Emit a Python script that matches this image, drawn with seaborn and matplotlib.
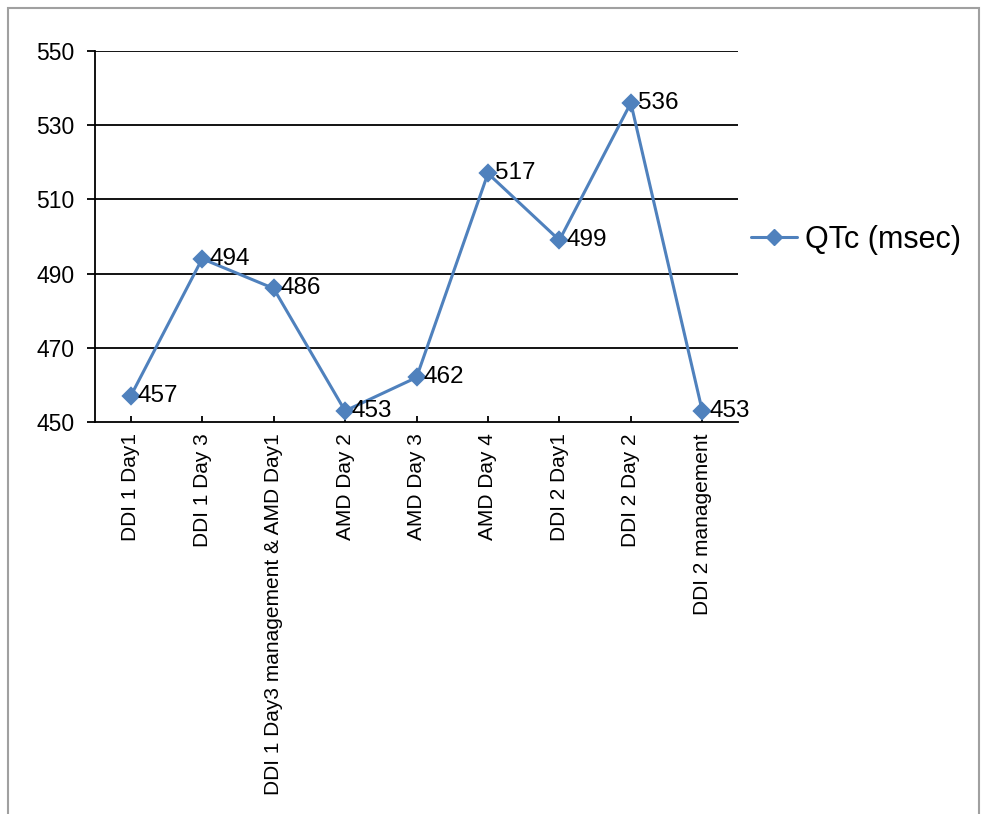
import pandas as pd
import seaborn as sns
import matplotlib.pyplot as plt
from matplotlib.patches import Rectangle
from matplotlib.lines import Line2D

stages = ['DDI 1 Day1', 'DDI 1 Day 3', 'DDI 1 Day3 management & AMD Day1',
          'AMD Day 2', 'AMD Day 3', 'AMD Day 4', 'DDI 2 Day1', 'DDI 2 Day 2',
          'DDI 2 management']
qtc = [457, 494, 486, 453, 462, 517, 499, 536, 453]
y_ticks = [450, 470, 490, 510, 530, 550]

blue = '#4F81BD'

sns.set_style('white')
plt.rcParams['font.family'] = ['Liberation Sans', 'DejaVu Sans']
plt.rcParams['text.color'] = 'black'
plt.rcParams['xtick.color'] = 'black'
plt.rcParams['ytick.color'] = 'black'

df = pd.DataFrame({'stage': stages, 'qtc': qtc})

fig = plt.figure(figsize=(9.81, 8.14), dpi=100)
ax = fig.add_axes([95 / 981, 1 - 422 / 814, (738 - 95) / 981, (422 - 51) / 814])

sns.pointplot(data=df, x='stage', y='qtc', order=stages, color=blue,
              marker='D', markersize=8.5, linewidth=2.2, ax=ax)

for i, v in enumerate(qtc):
    ax.annotate(str(v), (i, v), xytext=(5, 0), textcoords='offset points',
                ha='left', va='center', fontsize=17.5, color='black')

ax.set_xlim(-0.5, len(stages) - 0.5)
ax.set_ylim(450, 550)
ax.set_yticks(y_ticks)
ax.set_yticklabels([str(t) for t in y_ticks], fontsize=16.5)
ax.set_xticks(range(len(stages)))
ax.set_xticklabels(stages, rotation=90, fontsize=15)
ax.set_xlabel('')
ax.set_ylabel('')

for t in y_ticks[1:]:
    ax.axhline(t, color='black', lw=1.3, zorder=0)

for side in ['top', 'right']:
    ax.spines[side].set_visible(False)
for side in ['left', 'bottom']:
    ax.spines[side].set_color('black')
    ax.spines[side].set_linewidth(1.3)

ax.tick_params(axis='y', direction='out', length=6, width=1.3, pad=9, left=True)
ax.tick_params(axis='x', direction='in', length=4, width=1.3, pad=8, bottom=True)

handle = Line2D([], [], color=blue, lw=2.2, marker='D', markersize=8.5)
fig.legend([handle], ['QTc (msec)'], loc='center left',
           bbox_to_anchor=(736 / 981, 1 - 240 / 814), borderpad=0,
           frameon=False, fontsize=22, handlelength=1.5, handletextpad=0.25)

fig.patches.append(Rectangle((8 / 981, -0.05), 971 / 981, 1.05 - 8 / 814,
                             transform=fig.transFigure, fill=False,
                             edgecolor='#A0A0A0', lw=1.5))

fig.savefig('out.png', dpi=100)
